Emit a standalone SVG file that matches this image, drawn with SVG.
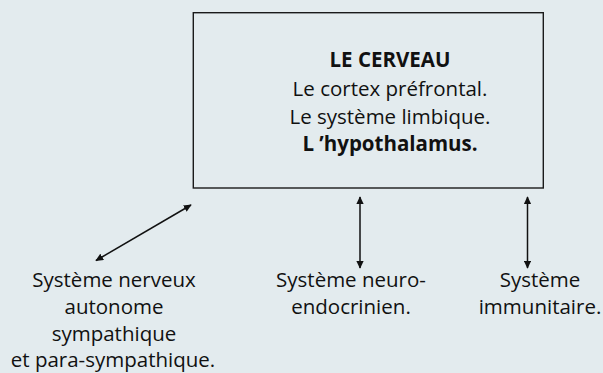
<svg xmlns="http://www.w3.org/2000/svg" width="603" height="373" viewBox="0 0 603 373">
  <style>
    .t { font-family: "Open Sans", "Liberation Sans", sans-serif; font-size: 20.5px; fill: #111; text-anchor: middle; }
    .b { font-weight: bold; }
    .box { fill: none; stroke: #1a1a1a; stroke-width: 1.4; }
    .link { stroke: #111; stroke-width: 1.5; fill: none; marker-start: url(#head); marker-end: url(#head); }
  </style>
  <defs>
    <marker id="head" viewBox="0 0 10 10" refX="9" refY="5" markerWidth="8" markerHeight="7.5" markerUnits="userSpaceOnUse" orient="auto-start-reverse" preserveAspectRatio="none">
      <path d="M0,0 L10,5 L0,10 z" fill="#111"/>
    </marker>
  </defs>
  <rect width="603" height="373" fill="#e3ebee"/>

  <g id="cerveau">
    <rect class="box" x="193.3" y="12.7" width="350" height="175.3"/>
    <text class="t b" x="390" y="67">LE CERVEAU</text>
    <text class="t" x="390" y="96">Le cortex préfrontal.</text>
    <text class="t" x="390" y="124">Le système limbique.</text>
    <text class="t b" x="390" y="151">L ’hypothalamus.</text>
  </g>

  <g id="snA">
    <text class="t" x="114" y="287">Système nerveux</text>
    <text class="t" x="114" y="314">autonome</text>
    <text class="t" x="114" y="341">sympathique</text>
    <text class="t" x="113" y="367">et para-sympathique.</text>
  </g>

  <g id="neuroendocrinien">
    <text class="t" x="351" y="287">Système neuro-</text>
    <text class="t" x="351" y="314">endocrinien.</text>
  </g>

  <g id="immunitaire">
    <text class="t" x="540" y="287">Système</text>
    <text class="t" x="540" y="314">immunitaire.</text>
  </g>

  <g id="connectors">
    <line class="link" x1="96" y1="260.5" x2="191" y2="205"/>
    <line class="link" x1="360" y1="197" x2="360" y2="268"/>
    <line class="link" x1="527.5" y1="197" x2="527.5" y2="268"/>
  </g>
</svg>
